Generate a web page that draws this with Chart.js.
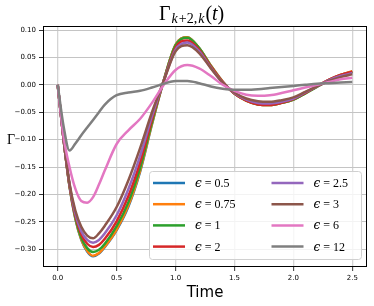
<!DOCTYPE html>
<html>
<head>
<meta charset="utf-8">
<script src="https://cdn.jsdelivr.net/npm/chart.js@4"></script>
<style>
  html, body { margin: 0; padding: 0; background: #fff; }
  canvas { display: block; }
</style>
</head>
<body>
<canvas id="chart" width="374" height="306"></canvas>
<script>
// time samples
const T = [0, 0.05, 0.1, 0.15, 0.2, 0.25, 0.3, 0.35, 0.4,
  0.5, 0.6, 0.7, 0.8, 0.9, 1.0, 1.1, 1.2, 1.3, 1.4, 1.5,
  1.6, 1.7, 1.8, 1.9, 2.0, 2.1, 2.2, 2.3, 2.4, 2.5];

// one curve per epsilon
const EPS = ['0.5', '0.75', '1', '2', '2.5', '3', '6', '12'];
const G_05  = [0,-0.100,-0.185,-0.245,-0.283,-0.304,-0.313,-0.308,-0.296,-0.265,-0.222,-0.158,-0.072,0.008,0.073,0.087,0.067,0.035,0.006,-0.016,-0.028,-0.035,-0.036,-0.033,-0.027,-0.015,-0.003,0.009,0.018,0.024];
const G_075 = [0,-0.100,-0.185,-0.244,-0.282,-0.303,-0.312,-0.307,-0.295,-0.264,-0.220,-0.156,-0.071,0.008,0.073,0.087,0.067,0.035,0.006,-0.016,-0.029,-0.036,-0.037,-0.033,-0.027,-0.015,-0.003,0.009,0.018,0.025];
const G_1   = [0,-0.100,-0.184,-0.242,-0.279,-0.298,-0.305,-0.301,-0.290,-0.258,-0.214,-0.151,-0.068,0.008,0.072,0.086,0.067,0.034,0.005,-0.016,-0.029,-0.036,-0.037,-0.033,-0.027,-0.016,-0.004,0.008,0.017,0.023];
const G_2   = [0,-0.100,-0.183,-0.239,-0.273,-0.290,-0.296,-0.292,-0.281,-0.249,-0.203,-0.141,-0.063,0.007,0.068,0.081,0.064,0.033,0.005,-0.016,-0.029,-0.036,-0.037,-0.033,-0.026,-0.015,-0.003,0.009,0.018,0.024];
const G_25  = [0,-0.100,-0.181,-0.235,-0.267,-0.283,-0.288,-0.283,-0.271,-0.238,-0.190,-0.129,-0.057,0.007,0.064,0.077,0.061,0.031,0.004,-0.015,-0.027,-0.033,-0.034,-0.031,-0.025,-0.014,-0.003,0.008,0.016,0.021];
const G_3   = [0,-0.100,-0.180,-0.230,-0.259,-0.275,-0.280,-0.271,-0.257,-0.223,-0.174,-0.115,-0.050,0.007,0.061,0.072,0.058,0.030,0.004,-0.014,-0.025,-0.030,-0.031,-0.028,-0.023,-0.013,-0.003,0.007,0.014,0.019];
const G_6   = [0,-0.095,-0.150,-0.190,-0.212,-0.215,-0.205,-0.182,-0.156,-0.108,-0.083,-0.062,-0.033,0.000,0.027,0.036,0.030,0.016,0.000,-0.011,-0.018,-0.020,-0.019,-0.015,-0.010,-0.005,0.000,0.005,0.010,0.013];
const G_12  = [0,-0.076,-0.120,-0.107,-0.092,-0.078,-0.064,-0.050,-0.036,-0.019,-0.014,-0.011,-0.005,0.002,0.007,0.007,0.003,-0.003,-0.007,-0.009,-0.009,-0.008,-0.006,-0.004,-0.002,0.000,0.002,0.003,0.004,0.005];
const SERIES = [G_05, G_075, G_1, G_2, G_25, G_3, G_6, G_12];
const COLORS = ['#1f77b4', '#ff7f0e', '#2ca02c', '#d62728', '#9467bd', '#8c564b', '#e377c2', '#7f7f7f'];

const X_TICKS = [0, 0.5, 1.0, 1.5, 2.0, 2.5];
const Y_TICKS = [-0.30, -0.25, -0.20, -0.15, -0.10, -0.05, 0.00, 0.05, 0.10];

const SERIF = '"Liberation Serif", "DejaVu Serif", serif';
const SANS = '"DejaVu Sans", sans-serif';

// draw a list of text pieces one after another
function drawRuns(ctx, x, y, runs) {
    runs.forEach(r => {
        ctx.font = r.font;
        ctx.fillText(r.text, x, y + (r.dy || 0));
        x += ctx.measureText(r.text).width + (r.gap || 0);
    });
}

const decor = {
    id: 'decor',
    afterDatasetsDraw(chart) {
        const { ctx, chartArea: a } = chart;
        ctx.save();

        // frame
        ctx.strokeStyle = '#000';
        ctx.lineWidth = 1;
        ctx.strokeRect(Math.round(a.left) + 0.5, Math.round(a.top) + 0.5,
            Math.round(a.right - a.left) - 1, Math.round(a.bottom - a.top) - 1);

        // legend box
        const bx = a.right - 218, by = a.bottom - 96, bw = 212, bh = 88;
        ctx.fillStyle = 'rgba(255,255,255,0.8)';
        ctx.strokeStyle = '#d0d0d0';
        ctx.beginPath();
        ctx.roundRect(bx + 0.5, by + 0.5, bw, bh, 3);
        ctx.fill();
        ctx.stroke();

        ctx.textBaseline = 'alphabetic';
        ctx.fillStyle = '#000';
        chart.data.datasets.forEach((ds, i) => {
            const col = Math.floor(i / 4), row = i % 4;
            const lx = bx + 4 + col * 118.5;
            const ly = by + 12 + row * 21.2;
            ctx.strokeStyle = ds.borderColor;
            ctx.lineWidth = 2.5;
            ctx.beginPath();
            ctx.moveTo(lx, ly);
            ctx.lineTo(lx + 32, ly);
            ctx.stroke();
            ctx.fillStyle = '#000';
            drawRuns(ctx, lx + 42, ly + 4, [
                { text: '\u03f5', font: 'italic 12px "DejaVu Serif", serif', gap: 3 },
                { text: '=', font: '12px ' + SERIF, gap: 3 },
                { text: EPS[i], font: '12px ' + SERIF }
            ]);
        });

        // title
        ctx.fillStyle = '#000';
        drawRuns(ctx, 159, 19.5, [
            { text: '\u0393', font: '20px ' + SERIF, gap: 1 },
            { text: 'k', font: 'italic 14px ' + SERIF, dy: 3, gap: 1 },
            { text: '+2,', font: '14px ' + SERIF, dy: 3, gap: 1 },
            { text: 'k', font: 'italic 14px ' + SERIF, dy: 3, gap: 1 },
            { text: '(', font: '20px ' + SERIF },
            { text: 't', font: 'italic 20px ' + SERIF },
            { text: ')', font: '20px ' + SERIF }
        ]);

        // y label
        ctx.font = '14px ' + SERIF;
        ctx.fillText('\u0393', 7, 144);

        // x label
        ctx.font = '15px ' + SANS;
        ctx.textAlign = 'center';
        ctx.fillText('Time', (a.left + a.right) / 2, 296.5);

        ctx.restore();
    }
};

const datasets = SERIES.map((vals, i) => ({
    label: '\u03f5 = ' + EPS[i],
    data: T.map((t, j) => ({ x: t, y: vals[j] })),
    borderColor: COLORS[i],
    backgroundColor: COLORS[i],
    order: SERIES.length - i
}));

new Chart(document.getElementById('chart'), {
    type: 'line',
    data: { datasets },
    options: {
        responsive: false,
        animation: false,
        layout: { padding: { top: 26, right: 7, left: 0, bottom: 0 } },
        plugins: {
            legend: { display: false },
            tooltip: { enabled: false },
            title: { display: false }
        },
        elements: {
            point: { radius: 0 },
            line: { borderWidth: 2.5, cubicInterpolationMode: 'monotone', fill: false }
        },
        scales: {
            x: {
                type: 'linear',
                min: -0.125,
                max: 2.625,
                afterFit(s) { s.height = 39; },
                afterBuildTicks(s) { s.ticks = X_TICKS.map(v => ({ value: v })); },
                border: { display: false },
                grid: { color: '#d4d4d4', lineWidth: 1.3, tickColor: '#000', tickLength: 4, tickWidth: 0.8 },
                ticks: {
                    padding: 3, maxRotation: 0, color: '#000',
                    font: { family: 'DejaVu Sans', size: 7 },
                    callback: v => v.toFixed(1)
                }
            },
            y: {
                min: -0.3324,
                max: 0.1073,
                afterFit(s) { s.width = 43; },
                afterBuildTicks(s) { s.ticks = Y_TICKS.map(v => ({ value: v })); },
                border: { display: false },
                grid: { color: '#c4c4c4', lineWidth: 1, tickColor: '#000', tickLength: 4, tickWidth: 0.8 },
                ticks: {
                    padding: 3, color: '#000',
                    font: { family: 'DejaVu Sans', size: 7 },
                    callback: v => v.toFixed(2).replace('-', '\u2212')
                }
            }
        }
    },
    plugins: [decor]
});
</script>
</body>
</html>
